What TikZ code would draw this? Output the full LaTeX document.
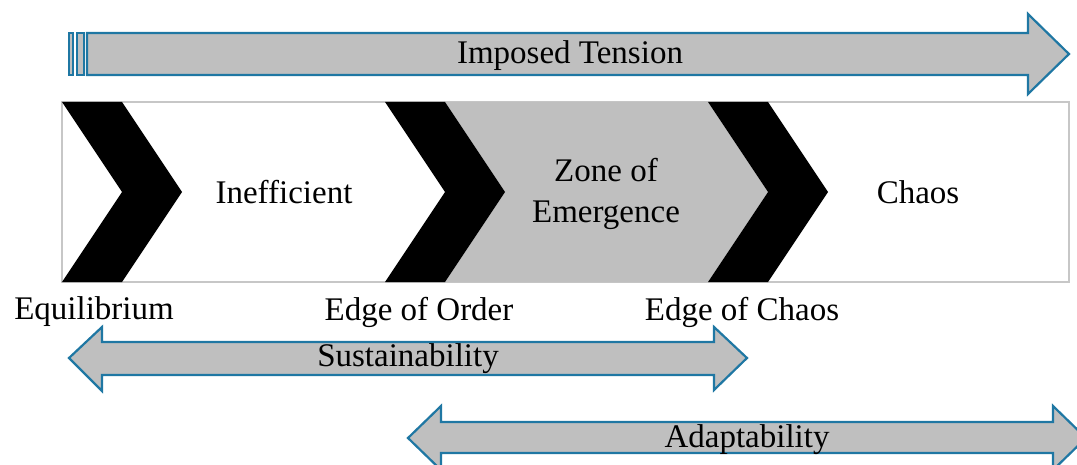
\documentclass[tikz,border=0pt]{standalone}
\usepackage{fontspec}
\setmainfont{Liberation Serif}
\definecolor{arrowblue}{RGB}{31,119,163}
\definecolor{zonegray}{RGB}{191,191,191}
\begin{document}
\begin{tikzpicture}[x=0.5pt, y=-0.5pt,
    blockarrow/.style={draw=arrowblue, fill=zonegray, line width=1.1pt, line join=miter},
    lbl/.style={font=\fontsize{16.5}{20.5}\selectfont, inner sep=0pt}]
  \useasboundingbox (0,0) rectangle (1077,465);
  \clip (0,0) rectangle (1077,465);
  % imposed tension
  \draw[blockarrow] (69,33) rectangle (73,75);
  \draw[blockarrow] (77,33) rectangle (84,75);
  \draw[blockarrow] (87,33) -- (1028,33) -- (1028,14) -- (1069,54) -- (1028,94) -- (1028,75) -- (87,75) -- cycle;
  \node[lbl] (tension) at (570,56) {Imposed Tension};
  % zones
  \draw[black!22, line width=0.6pt] (62,102) rectangle (1069,282);
  \fill[zonegray] (445,102) -- (708,102) -- (768,192) -- (708,282) -- (445,282) -- (505,192) -- cycle;
  \foreach \x in {62,385,708}
    \fill (\x,102) -- ++(60,0) -- ++(60,90) -- ++(-60,90) -- ++(-60,0) -- ++(60,-90) -- cycle;
  \node[lbl] (ineff) at (284,192) {Inefficient};
  \node[lbl, align=center] (zone) at (606,194) {Zone of\\Emergence};
  \node[lbl] (chaos) at (918,192) {Chaos};
  \node[lbl] (equil) at (94,312) {Equilibrium};
  \node[lbl] (order) at (419,312) {Edge of Order};
  \node[lbl] (edge) at (742,312) {Edge of Chaos};
  % ranges
  \draw[blockarrow] (69,358) -- (102,327) -- (102,342) -- (714,342) -- (714,327) -- (747,358)
    -- (714,390) -- (714,375) -- (102,375) -- (102,391) -- cycle;
  \node[lbl] (sustain) at (408,359) {Sustainability};
  \draw[blockarrow] (408,438) -- (441,406) -- (441,422) -- (1053,422) -- (1053,406) -- (1086,438)
    -- (1053,470) -- (1053,453) -- (441,453) -- (441,470) -- cycle;
  \node[lbl] (adapt) at (747,440) {Adaptability};
\end{tikzpicture}
\end{document}
